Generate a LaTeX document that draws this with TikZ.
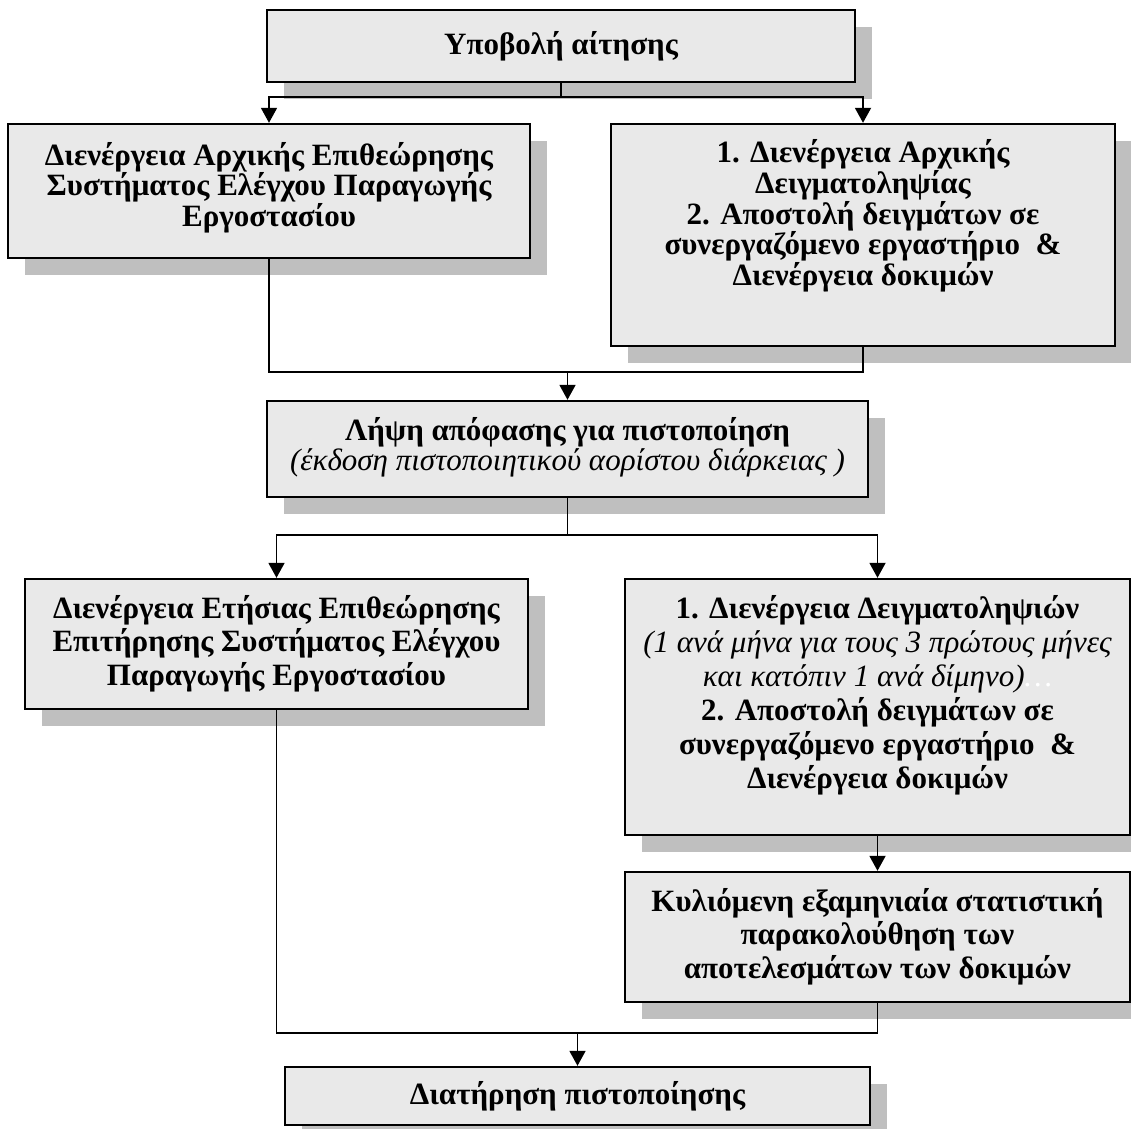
\documentclass[tikz,border=0pt]{standalone}
\usepackage{fontspec}
\setmainfont{Liberation Serif}
\usetikzlibrary{shadows,arrows.meta}
\definecolor{boxfill}{HTML}{E9E9E9}
\definecolor{shadowgray}{HTML}{BFBFBF}
\begin{document}
\begin{tikzpicture}[x=1pt,y=-1pt,
  box/.style={draw=black, line width=2.4pt, fill=boxfill,
    general shadow={fill=shadowgray, shadow xshift=17pt, shadow yshift=-17pt},
    inner sep=0pt},
  txt/.style={align=center, inner sep=0pt, font=\fontsize{31}{#1}\selectfont\bfseries},
  txt/.default=30,
  conn/.style={line width=1.8pt},
  arr/.style={conn, -{Triangle[length=15pt,width=16pt]}}]
\useasboundingbox (0,0) rectangle (1131,1128);

% boxes
\node[box, minimum width=588pt, minimum height=72pt] (b1) at (561,46) {};
\node[box, minimum width=522pt, minimum height=134pt] (b2) at (269,191) {};
\node[box, minimum width=504pt, minimum height=222pt] (b3) at (863,235) {};
\node[box, minimum width=601pt, minimum height=96pt] (b4) at (567.5,449) {};
\node[box, minimum width=503pt, minimum height=130pt] (b5) at (276.5,644) {};
\node[box, minimum width=505pt, minimum height=256pt] (b6) at (877.5,707) {};
\node[box, minimum width=505pt, minimum height=130pt] (b7) at (877.5,937) {};
\node[box, minimum width=585pt, minimum height=58pt] (b8) at (577.5,1096) {};

% texts
\node[txt] (t1) at (b1.center) {Υποβολή αίτησης};
\node[txt=30.5] (t2) at (269,187.5) {Διενέργεια Αρχικής Επιθεώρησης\\Συστήματος Ελέγχου Παραγωγής\\Εργοστασίου};
\node[txt=29.5] (t3) at (863,216) {1. Διενέργεια Αρχικής\\Δειγματοληψίας\\2. Αποστολή δειγμάτων σε\\συνεργαζόμενο εργαστήριο \ \&\\Διενέργεια δοκιμών};
\node[txt=30] (t4) at (567.5,447) {Λήψη απόφασης για πιστοποίηση\\{\mdseries\itshape (έκδοση πιστοποιητικού αορίστου διάρκειας )}};
\node[txt=33.5] (t5) at (276.5,643.5) {Διενέργεια Ετήσιας Επιθεώρησης\\Επιτήρησης Συστήματος Ελέγχου\\Παραγωγής Εργοστασίου};
\node[txt=34] (t6) at (877.5,695) {1. Διενέργεια Δειγματοληψιών\\{\mdseries\itshape (1 ανά μήνα για τους 3 πρώτους μήνες}\\{\mdseries\itshape και κατόπιν 1 ανά δίμηνο)\textcolor{white}{…}}\\2. Αποστολή δειγμάτων σε\\συνεργαζόμενο εργαστήριο \ \&\\Διενέργεια δοκιμών};
\node[txt=33.5] (t7) at (877.5,936.5) {Κυλιόμενη εξαμηνιαία στατιστική\\παρακολούθηση των\\αποτελεσμάτων των δοκιμών};
\node[txt] (t8) at (b8.center) {Διατήρηση πιστοποίησης};

% connectors
\coordinate (j1) at (561,97);
\draw[conn] (b1.south) -- (j1);
\draw[arr] (j1) -| (b2.north);
\draw[arr] (j1) -| (b3.north);

\coordinate (j2) at (567.5,372);
\draw[conn] (b2.south) -- (b2.south |- j2) -- (b3.south |- j2) -- (b3.south);
\draw[arr] (j2) -- (b4.north);

\coordinate (j3) at (567.5,535);
\draw[conn] (b4.south) -- (j3);
\draw[arr] (j3) -| (b5.north);
\draw[arr] (j3) -| (b6.north);

\draw[arr] (b6.south) -- (b7.north);

\coordinate (j4) at (577.5,1033);
\draw[conn] (b5.south) -- (b5.south |- j4) -- (b7.south |- j4) -- (b7.south);
\draw[arr] (j4) -- (b8.north);
\end{tikzpicture}
\end{document}
